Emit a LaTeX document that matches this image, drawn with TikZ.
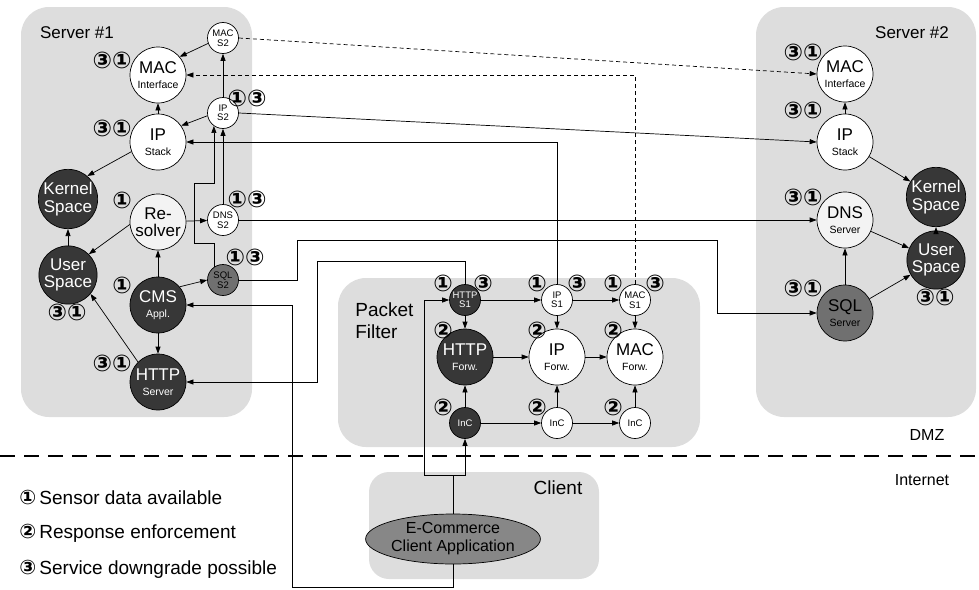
\documentclass[tikz,border=0pt]{standalone}
\usepackage{fontspec}
\setmainfont{Liberation Sans}
\newfontfamily\circfont{DejaVu Sans}
\usepackage{tikz}
\usetikzlibrary{arrows.meta,positioning,calc,shapes.geometric}
\definecolor{fog}{RGB}{221,221,221}
\definecolor{charcoal}{RGB}{55,55,55}
\definecolor{slate}{RGB}{112,112,112}
\definecolor{pearl}{RGB}{243,243,243}
\definecolor{pebble}{RGB}{135,135,135}
\newcommand{\subtxt}[1]{{\fontsize{10.5}{11}\selectfont #1}}

\begin{document}
\begin{tikzpicture}[x=1pt,y=-1pt,line width=0.7pt,
	zonebox/.style={fill=fog,rounded corners=28pt},
	bignode/.style={circle,draw,fill=white,minimum size=56pt,inner sep=0pt,align=center,font=\fontsize{17}{17.5}\selectfont},
	smallnode/.style={circle,draw,fill=white,minimum size=31pt,inner sep=0pt,align=center,font=\fontsize{9.5}{9.5}\selectfont},
	darkfill/.style={fill=charcoal,text=white},
	midfill/.style={fill=slate},
	palefill/.style={fill=pearl},
	flow/.style={-{Triangle[length=7pt,width=5pt]}},
	probe/.style={flow,dash pattern=on 4pt off 3pt},
	tag/.style={font=\circfont\bfseries\fontsize{23}{23}\selectfont,inner sep=0pt},
	title/.style={font=\fontsize{17}{20}\selectfont,inner sep=0pt},
	legend/.style={anchor=west,inner sep=0pt,font=\fontsize{19}{21}\selectfont}]
	
	\useasboundingbox (0,0) rectangle (979,589);
	
	% zones
	\fill[zonebox] (21,7) rectangle (252,417);
	\fill[zonebox] (756,7) rectangle (976,417);
	\fill[zonebox] (338,278) rectangle (700,447);
	\fill[zonebox,rounded corners=20pt] (369,472) rectangle (599,579);
	\draw[line width=2.6pt,dash pattern=on 15pt off 9pt] (0,456) -- (979,456);
	
	\node[title] (srva) at (77,33) {Server \#1};
	\node[title] (srvb) at (912,33) {Server \#2};
	\node[title,align=left,anchor=west,font=\fontsize{19}{22}\selectfont] (pfilter) at (355,321) {Packet\\Filter};
	\node[title,font=\fontsize{19}{22}\selectfont] (clientlbl) at (558,488) {Client};
	\node[title,font=\fontsize{16}{20}\selectfont] (dmz) at (927,435) {DMZ};
	\node[title,font=\fontsize{16}{20}\selectfont] (inet) at (922,480) {Internet};
	
	% Server #1
	\node[bignode] (macifa) at (158,75) {MAC\\[-3pt]\subtxt{Interface}};
	\node[smallnode] (macsb) at (223,38) {MAC\\S2};
	\node[smallnode] (ipsb) at (223,113) {IP\\S2};
	\node[bignode] (ipstacka) at (158,142) {IP\\[-3pt]\subtxt{Stack}};
	\node[bignode,darkfill] (kernela) at (68,199) {Kernel\\Space};
	\node[bignode,palefill] (resolver) at (158,222) {Re-\\solver};
	\node[smallnode] (dnssb) at (223,220) {DNS\\S2};
	\node[bignode,darkfill] (usera) at (68,275) {User\\Space};
	\node[bignode,darkfill] (cms) at (158,305) {CMS\\[-3pt]\subtxt{Appl.}};
	\node[smallnode,midfill] (sqlsb) at (223,280) {SQL\\S2};
	\node[bignode,darkfill] (httpserver) at (158,382) {HTTP\\[-3pt]\subtxt{Server}};
	
	\draw[flow] (macsb.200) -- (macifa.40);
	\draw[flow] (ipsb) -- (macsb);
	\draw[flow] (ipsb.190) -- (ipstacka.35);
	\draw[flow] (ipstacka) -- (macifa);
	\draw[flow] (ipstacka.200) -- (kernela.50);
	\draw[flow] (dnssb) -- (ipsb);
	\draw[flow] (resolver) -- (dnssb);
	\draw[flow] (resolver.185) -- (usera.45);
	\draw[flow] (cms) -- (resolver);
	\draw[flow] (cms.40) -- (sqlsb.west);
	\draw[flow] (cms) -- (httpserver);
	\draw[flow] (httpserver.135) -- (usera.-40);
	\draw[flow] (usera) -- (kernela);
	\coordinate (joga) at (194,243);
	\coordinate (jogb) at (194,183);
	\draw[flow] (sqlsb.125) |- (joga) -- (jogb) -| (ipsb.235);
	
	% Server #2
	\node[bignode] (macifb) at (845,74) {MAC\\[-3pt]\subtxt{Interface}};
	\node[bignode] (ipstackb) at (845,142) {IP\\[-3pt]\subtxt{Stack}};
	\node[bignode,darkfill] (kernelb) at (936,197) {Kernel\\Space};
	\node[bignode,palefill] (dnsserver) at (845,220) {DNS\\[-3pt]\subtxt{Server}};
	\node[bignode,darkfill] (userb) at (936,260) {User\\Space};
	\node[bignode,midfill] (sqlserver) at (845,313) {SQL\\[-3pt]\subtxt{Server}};
	
	\draw[flow] (ipstackb) -- (macifb);
	\draw[flow] (ipstackb) -- (kernelb);
	\draw[flow] (dnsserver) -- (userb);
	\draw[flow] (sqlserver) -- (dnsserver);
	\draw[flow] (sqlserver) -- (userb);
	\draw[flow] (userb) -- (kernelb);
	
	% Packet Filter
	\node[smallnode,darkfill] (httpsa) at (465,300) {HTTP\\S1};
	\node[smallnode] (ipsa) at (557,300) {IP\\S1};
	\node[smallnode] (macsa) at (635,300) {MAC\\S1};
	\node[bignode,darkfill] (httpforw) at (465,357) {HTTP\\[-3pt]\subtxt{Forw.}};
	\node[bignode] (ipforw) at (557,357) {IP\\[-3pt]\subtxt{Forw.}};
	\node[bignode] (macforw) at (635,357) {MAC\\[-3pt]\subtxt{Forw.}};
	\node[smallnode,darkfill] (inca) at (465,423) {InC};
	\node[smallnode] (incb) at (557,423) {InC};
	\node[smallnode] (incc) at (635,423) {InC};
	
	\draw[flow] (httpsa) -- (ipsa);
	\draw[flow] (ipsa) -- (macsa);
	\draw[flow] (httpsa) -- (httpforw);
	\draw[flow] (ipsa) -- (ipforw);
	\draw[flow] (macsa) -- (macforw);
	\draw[flow] (httpforw) -- (ipforw);
	\draw[flow] (ipforw) -- (macforw);
	\draw[flow] (inca) -- (httpforw);
	\draw[flow] (inca) -- (incb);
	\draw[flow] (incb) -- (incc);
	\draw[flow] (incb) -- (ipforw);
	\draw[flow] (incc) -- (macforw);
	
	% Client
	\node[ellipse,draw,fill=pebble,minimum width=158pt,minimum height=50pt,inner sep=0pt,align=center,font=\fontsize{16}{18}\selectfont] (ecom) at (453,539) {E-Commerce\\Client Application};
	
	% links between zones
	\draw[probe] (macsb.east) -- (macifb.west);
	\draw[probe] (macsa.north) |- (macifa.east);
	\draw[flow] (ipsb.east) -- (ipstackb.west);
	\draw[flow] (ipsa.north) |- (ipstacka.east);
	\draw[flow] (dnssb.east) -- (dnsserver.west);
	\coordinate (sqlup) at (297,240);
	\coordinate (sqldown) at (717,313);
	\draw[flow] (sqlsb.east) -| (sqlup) -| (sqldown) -- (sqlserver.west);
	\coordinate (httpturn) at (317,261);
	\draw[flow] (httpsa.north) |- (httpturn) |- (httpserver.east);
	\coordinate (fork) at (453,475);
	\coordinate (forkleft) at (424,475);
	\draw (ecom.north) -- (fork);
	\draw[flow] (fork) -| (inca.south);
	\draw[flow] (fork) -- (forkleft) |- (httpsa.west);
	\coordinate (cmsturn) at (292,587);
	\draw[flow] (ecom.south) |- (cmsturn) |- (cms.east);
	
	% markers
	\foreach \x/\y/\t [count=\i] in {112/60/③①,112/128/③①,122/200/①,247/98/①③,247/199/①③,245/257/①③,122/285/①,67/312/③①,112/363/③①,
		443/283/①,483/283/③,537/283/①,577/283/③,613/283/①,655/283/③,443/330/②,537/330/②,613/330/②,443/407/②,537/407/②,613/407/②,
		803/52/③①,803/110/③①,803/197/③①,803/288/③①,935/297/③①}
	\node[tag] (mark\i) at (\x,\y) {\t};
	
	% legend
	\node[legend] (lega) at (19,497) {{\circfont\bfseries\fontsize{20}{20}\selectfont ①}\,Sensor data available};
	\node[legend] (legb) at (19,533) {{\circfont\bfseries\fontsize{20}{20}\selectfont ②}\,Response enforcement};
	\node[legend] (legc) at (19,569) {{\circfont\bfseries\fontsize{20}{20}\selectfont ③}\,Service downgrade possible};
\end{tikzpicture}
\end{document}
